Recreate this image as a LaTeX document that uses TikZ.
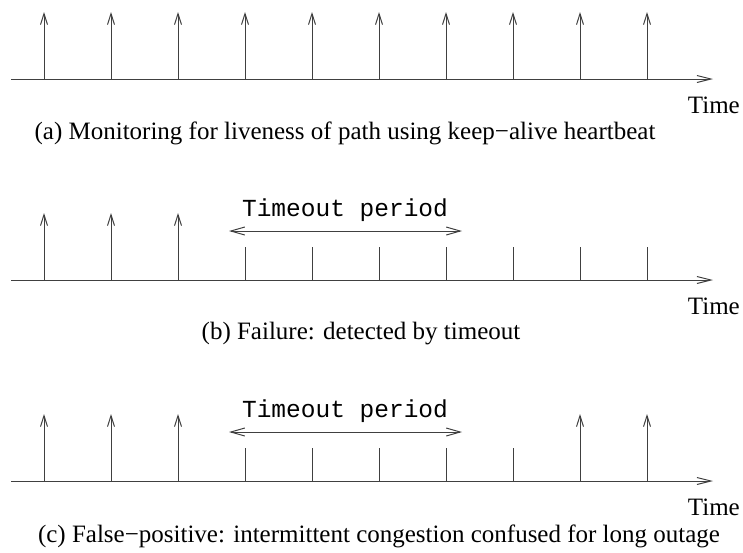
\documentclass[tikz,border=0pt]{standalone}
\usepackage{fontspec}
\setmainfont{Liberation Serif}
\setmonofont{Liberation Mono}
\usetikzlibrary{arrows.meta}
\begin{document}
\begin{tikzpicture}[x=1pt,y=-1pt,
  line/.style={draw=black!75,line width=1pt},
  beat/.style={line,-{Straight Barb[length=11pt,width=7pt,line width=1pt]}},
  axis/.style={line,-{Straight Barb[length=14pt,width=7pt,line width=1pt]}},
  span/.style={line,{Straight Barb[length=14pt,width=8pt,line width=1pt]}-{Straight Barb[length=14pt,width=8pt,line width=1pt]}},
  txt/.style={inner sep=0pt,anchor=base,font=\fontsize{25}{29}\selectfont},
  ttxt/.style={inner sep=0pt,anchor=base,font=\ttfamily\fontsize{24.5}{28}\selectfont}]
\useasboundingbox (0,0) rectangle (743,552);

% ---------- (a) heartbeat on every tick ----------
\coordinate (a0) at (11,79);
\coordinate (a1) at (713,79);
\draw[axis] (a0) -- (a1);
\foreach \i in {0,...,9}{
  \coordinate (ab\i) at ({44+67*\i},79);
  \coordinate (at\i) at ({44+67*\i},12);
  \draw[beat] (ab\i) -- (at\i);
}
\node[txt,anchor=base east] (atime) at (740,113) {Time};
\node[txt] (acap) at (345,139) {(a) Monitoring for liveness of path using keep−alive heartbeat};

% ---------- (b) heartbeats stop ----------
\coordinate (b0) at (11,280);
\coordinate (b1) at (713,280);
\draw[axis] (b0) -- (b1);
\foreach \i in {0,...,2}{
  \coordinate (bb\i) at ({44+67*\i},280);
  \coordinate (bt\i) at ({44+67*\i},213);
  \draw[beat] (bb\i) -- (bt\i);
}
\foreach \i in {3,...,9}{
  \coordinate (bb\i) at ({44+67*\i},280);
  \coordinate (bt\i) at ({44+67*\i},247);
  \draw[line] (bb\i) -- (bt\i);
}
\coordinate (bl) at (229,231);
\coordinate (br) at (462,231);
\draw[span] (bl) -- (br);
\node[ttxt] (bto) at (345,216) {Timeout period};
\node[txt,anchor=base east] (btime) at (740,314) {Time};
\node[txt] (bcap) at (361,339) {(b) Failure: detected by timeout};

% ---------- (c) heartbeats resume ----------
\coordinate (c0) at (11,481);
\coordinate (c1) at (713,481);
\draw[axis] (c0) -- (c1);
\foreach \i in {0,1,2,8,9}{
  \coordinate (cb\i) at ({44+67*\i},481);
  \coordinate (ct\i) at ({44+67*\i},414);
  \draw[beat] (cb\i) -- (ct\i);
}
\foreach \i in {3,...,7}{
  \coordinate (cb\i) at ({44+67*\i},481);
  \coordinate (ct\i) at ({44+67*\i},448);
  \draw[line] (cb\i) -- (ct\i);
}
\coordinate (cl) at (229,432);
\coordinate (cr) at (462,432);
\draw[span] (cl) -- (cr);
\node[ttxt] (cto) at (345,417) {Timeout period};
\node[txt,anchor=base east] (ctime) at (740,515) {Time};
\node[txt] (ccap) at (379,542) {(c) False−positive: intermittent congestion confused for long outage};
\end{tikzpicture}
\end{document}
